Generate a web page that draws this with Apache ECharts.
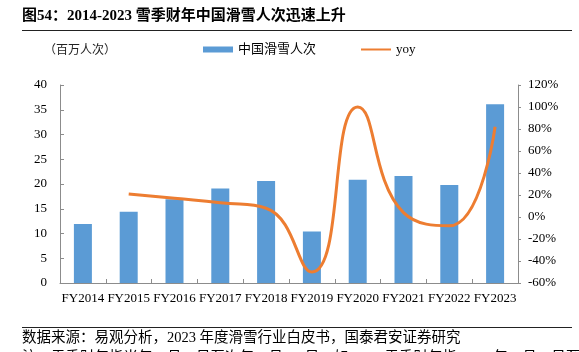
<!DOCTYPE html>
<html>
<head>
<meta charset="utf-8">
<script src="https://cdn.jsdelivr.net/npm/echarts@6/dist/echarts.min.js"></script>
<style>
  html, body { margin: 0; padding: 0; background: #fff; }
  #chart { width: 579px; height: 352px; }
</style>
</head>
<body>
<div id="chart"></div>
<script>
const years = ['FY2014', 'FY2015', 'FY2016', 'FY2017', 'FY2018', 'FY2019', 'FY2020', 'FY2021', 'FY2022', 'FY2023'];
// 中国滑雪人次（百万人次）
const skiVisits = [11.9, 14.4, 16.9, 19.1, 20.6, 10.4, 20.85, 21.6, 19.8, 36.1];
// yoy (%)
const yoy = [null, 21, 17, 13, 8, -50, 100, 4, -8, 82];
const leftAxisRange = [0, 40, 5];
const rightAxisRange = [-60, 120, 20];

const SERIF = "'Liberation Serif', 'Noto Sans CJK SC', serif";
const BLUE = '#5B9BD5';
const ORANGE = '#ED7D31';
const AXIS = '#8C8C8C';

const chart = echarts.init(document.getElementById('chart'));

chart.setOption({
    animation: false,
    backgroundColor: '#fff',
    textStyle: { fontFamily: SERIF },
    graphic: [
        { type: 'text', left: 22, top: 9, style: { text: '图54：2014-2023 雪季财年中国滑雪人次迅速上升', font: "bold 15px 'Liberation Serif', 'Noto Sans CJK SC'", fill: '#000' } },
        { type: 'line', shape: { x1: 22, y1: 30.5, x2: 572, y2: 30.5 }, style: { stroke: '#222', lineWidth: 1 } },
        { type: 'text', left: 44, top: 43, style: { text: '（百万人次）', font: "12px 'Noto Sans CJK SC'", fill: '#222' } },
        { type: 'line', shape: { x1: 22, y1: 327.5, x2: 572, y2: 327.5 }, style: { stroke: '#222', lineWidth: 1 } },
        { type: 'text', left: 22, top: 331, style: { text: '数据来源：易观分析，2023 年度滑雪行业白皮书，国泰君安证券研究', font: "14.5px 'Liberation Serif', 'Noto Sans CJK SC'", fill: '#000' } },
        { type: 'text', left: 22, top: 351, style: { text: '注：雪季财年指当年 5 月 1 日至次年 4 月 30 日，如 2014 雪季财年指 2014 年 5 月 1 日至 2015 年 4 月 30 日', font: "14.5px 'Liberation Serif', 'Noto Sans CJK SC'", fill: '#000' } }
    ],
    legend: {
        left: 203,
        top: 43,
        padding: 0,
        itemWidth: 30,
        itemHeight: 6,
        itemGap: 44,
        textStyle: { fontSize: 13, color: '#000', fontFamily: SERIF },
        data: [
            { name: '中国滑雪人次', icon: 'rect' },
            { name: 'yoy', itemStyle: { opacity: 0 } }
        ]
    },
    grid: { left: 60, right: 61, top: 85, bottom: 69 },
    xAxis: {
        type: 'category',
        data: years,
        axisLine: { lineStyle: { color: AXIS, width: 1 } },
        axisTick: { show: true, inside: true, length: 4, alignWithLabel: false, lineStyle: { color: AXIS } },
        axisLabel: { color: '#000', fontSize: 13, fontFamily: SERIF, margin: 9, interval: 0 },
        splitLine: { show: false }
    },
    yAxis: [
        {
            type: 'value',
            min: leftAxisRange[0], max: leftAxisRange[1], interval: leftAxisRange[2],
            axisLine: { show: true, lineStyle: { color: AXIS } },
            axisTick: { show: true, inside: true, length: 4, lineStyle: { color: AXIS } },
            axisLabel: { color: '#000', fontSize: 13, fontFamily: SERIF, margin: 13 },
            splitLine: { show: false }
        },
        {
            type: 'value',
            min: rightAxisRange[0], max: rightAxisRange[1], interval: rightAxisRange[2],
            axisLine: { show: true, lineStyle: { color: AXIS } },
            axisTick: { show: true, inside: false, length: 3, lineStyle: { color: AXIS } },
            axisLabel: { color: '#000', fontSize: 13, fontFamily: SERIF, margin: 10, formatter: '{value}%' },
            splitLine: { show: false }
        }
    ],
    series: [
        {
            name: '中国滑雪人次',
            type: 'bar',
            data: skiVisits,
            barWidth: 18,
            itemStyle: { color: BLUE }
        },
        {
            name: 'yoy',
            type: 'line',
            yAxisIndex: 1,
            data: yoy,
            smooth: true,
            symbol: 'none',
            lineStyle: { color: ORANGE, width: 3 },
            itemStyle: { color: ORANGE }
        }
    ]
});
</script>
</body>
</html>
